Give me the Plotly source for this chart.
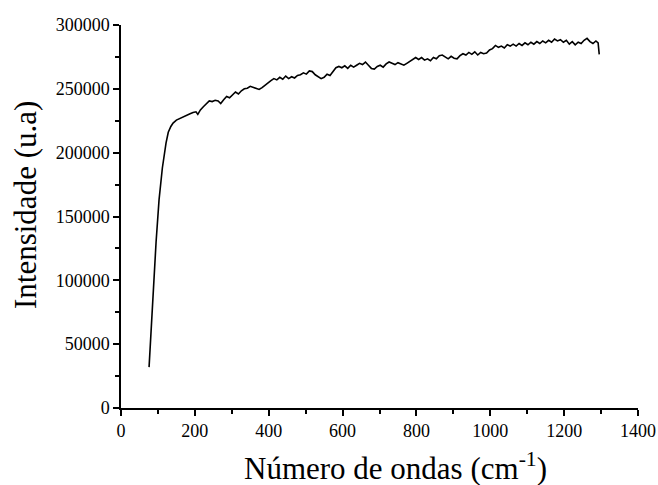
import plotly.graph_objects as go

wavenumber = [76, 85, 95, 103, 112, 122, 128, 135, 141, 150, 160, 170, 179,
              187, 195, 203, 208, 215, 223, 231, 239, 247, 255, 263, 270, 278, 286, 294,
              302, 310, 318, 326, 334, 342, 350, 358, 366, 374, 382, 390, 398,
              406, 414, 422, 430, 438, 446, 454, 462, 470, 478, 486, 494,
              502, 510, 518, 526, 534, 542, 550, 558, 566, 574, 582, 590, 598,
              606, 614, 622, 630, 638, 646, 654, 662, 670, 678, 686, 694,
              702, 710, 718, 726, 734, 742, 750, 758, 766, 774, 782, 790, 798,
              806, 814, 822, 830, 838, 846, 854, 862, 870, 878, 886, 894,
              902, 910, 918, 926, 934, 942, 950, 958, 966, 974, 982, 990, 998,
              1006, 1014, 1022, 1030, 1038, 1046, 1054, 1062, 1070, 1078, 1086, 1094,
              1102, 1110, 1118, 1126, 1134, 1142, 1150, 1158, 1166, 1174, 1182, 1190, 1198,
              1206, 1214, 1222, 1230, 1238, 1246, 1254, 1262, 1270, 1278, 1286, 1292, 1295]

intensity = [32000, 80000, 130000, 163000, 188000, 207600, 216000, 220500, 223200, 225500, 227000, 228500, 229500,
             230500, 231500, 232000, 230000, 233500, 236000, 238500, 240500, 240000, 241000, 240500, 238500, 241500, 244000, 243000,
             245500, 247500, 246000, 248500, 250000, 250500, 252000, 251000, 250500, 249500, 251000, 253000, 255000,
             256500, 258000, 257000, 259000, 257500, 260000, 258000, 259500, 258500, 260500, 261000, 262500,
             261500, 264000, 263500, 261000, 259500, 258000, 259000, 261500, 260500, 264000, 266500, 267500, 266500,
             268000, 266000, 268500, 267000, 268500, 270000, 269000, 271000, 268500, 266000, 265500, 267500,
             268500, 267000, 269500, 271000, 270000, 269000, 270500, 269500, 268500, 270000, 271500, 273000, 274500,
             273000, 274500, 272500, 273500, 272000, 274500, 273500, 276000, 276500, 275000, 273500, 275500,
             274000, 273500, 276000, 277500, 276500, 278500, 277000, 279000, 276500, 278500, 277500, 278000, 280500,
             281500, 284000, 282500, 283500, 282000, 284500, 283500, 285000, 283500, 285500, 284000, 286000,
             284500, 286500, 285000, 287000, 285500, 287500, 286000, 288000, 286500, 289000, 287500, 288500, 286500,
             288000, 285000, 287000, 284500, 286500, 285500, 288000, 289500, 287000, 285500, 287500, 286000, 277000]

x_title = "Número de ondas (cm<sup>-1</sup>)"
y_title = "Intensidade (u.a)"

fig = go.Figure()
fig.add_trace(go.Scatter(x=wavenumber, y=intensity, mode="lines",
                         line=dict(color="black", width=1.6), showlegend=False))

font = "Liberation Serif, Times New Roman, serif"
axis_common = dict(
    showline=True, linecolor="black", linewidth=1.5, mirror=False,
    ticks="outside", ticklen=6, tickwidth=1.5, tickcolor="black",
    showgrid=False, zeroline=False, automargin=False,
    tickfont=dict(family=font, size=18, color="black"),
)
fig.update_layout(
    width=658, height=485,
    margin=dict(l=121, r=20, t=25, b=77),
    paper_bgcolor="white", plot_bgcolor="white",
    xaxis=dict(range=[0, 1400], dtick=200, tick0=0,
               minor=dict(dtick=100, ticks="outside", ticklen=4, tickwidth=1.5, tickcolor="black"),
               **axis_common),
    yaxis=dict(range=[0, 300000], dtick=50000, tick0=0, tickformat="d",
               minor=dict(dtick=25000, ticks="outside", ticklen=4, tickwidth=1.5, tickcolor="black"),
               **axis_common),
    annotations=[
        dict(text=x_title, xref="paper", yref="paper", x=0.53, y=-0.154,
             xanchor="center", yanchor="middle", showarrow=False,
             font=dict(family=font, size=31, color="black")),
        dict(text=y_title, xref="paper", yref="paper", x=-0.1857, y=0.53,
             xanchor="center", yanchor="middle", showarrow=False, textangle=-90,
             font=dict(family=font, size=31, color="black")),
    ],
)
fig.write_html("out.html", config={"displayModeBar": False},
               post_script="document.body.style.margin='0';document.body.style.overflow='hidden';")
